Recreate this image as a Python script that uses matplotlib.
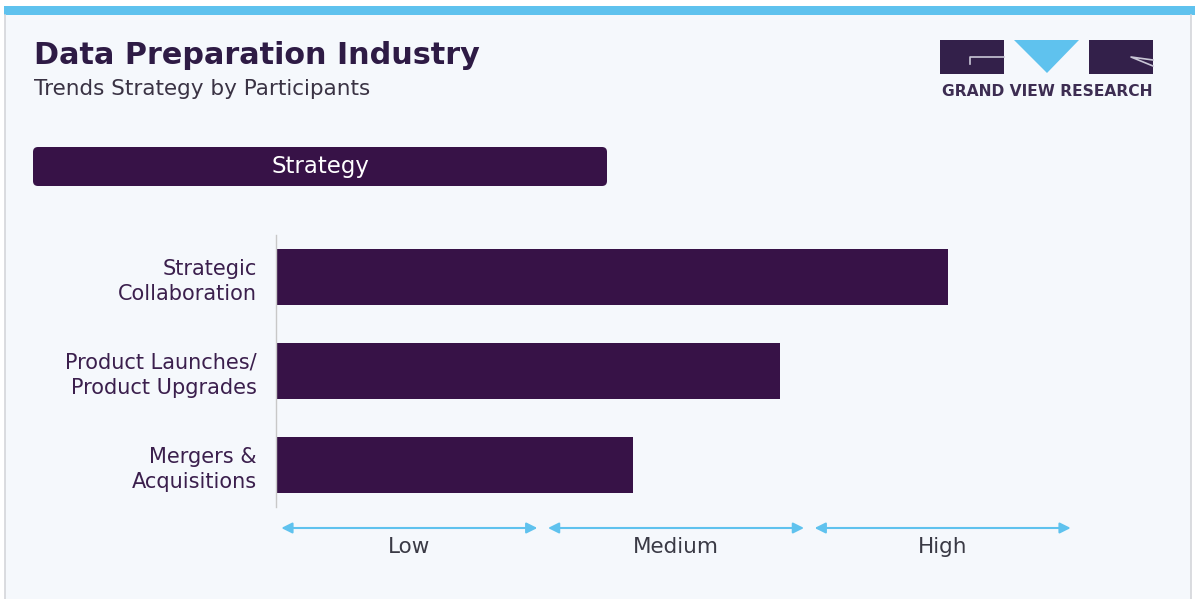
"""
Data Preparation Industry - trends strategy by participants.
"""
import matplotlib.pyplot as plt
from matplotlib.patches import Rectangle, Polygon, FancyBboxPatch
from matplotlib.lines import Line2D

strategies = ['Strategic\nCollaboration', 'Product Launches/\nProduct Upgrades',
              'Mergers &\nAcquisitions']
strength = [2.52, 1.89, 1.34]
levels = ['Low', 'Medium', 'High']

BG = '#f5f8fc'
PURPLE = '#371247'
TITLE = '#2e1b45'
BLUE = '#5fc2ee'
W, H = 1195, 599

fig = plt.figure(figsize=(W / 100, H / 100), dpi=100)
fig.patch.set_facecolor('white')

# overlay in pixel coords for the page decoration
deco = fig.add_axes([0, 0, 1, 1])
deco.set_xlim(0, W)
deco.set_ylim(H, 0)
deco.axis('off')
deco.add_patch(Rectangle((5, 6), W - 9, H, facecolor=BG, edgecolor='none'))
deco.add_patch(Rectangle((4, 6), W - 4, 9, facecolor=BLUE, edgecolor='none'))
deco.add_line(Line2D([5, 5], [15, H], color='#d4d6da', lw=1.2))
deco.add_line(Line2D([1191, 1191], [15, H], color='#d4d6da', lw=1.2))

deco.text(34, 56, 'Data Preparation Industry', fontsize=21.8, fontweight='bold',
          color=TITLE, va='center', ha='left', family='DejaVu Sans')
deco.text(34, 89, 'Trends Strategy by Participants', fontsize=15.5,
          color='#3a3344', va='center', ha='left', family='DejaVu Sans')

# header box
deco.add_patch(FancyBboxPatch((37, 151), 566, 31,
                              boxstyle='round,pad=4,rounding_size=5',
                              facecolor=PURPLE, edgecolor='none'))
deco.text(320, 166, 'Strategy', fontsize=16.5, color='white', ha='center',
          va='center', family='DejaVu Sans')

# logo
deco.add_patch(Rectangle((940, 40), 64, 34, facecolor='#33204a', edgecolor='none'))
deco.add_line(Line2D([1004, 970, 970], [57, 57, 64], color='#c9c6d6', lw=1.2))
deco.add_patch(Polygon([(1014, 40), (1079, 40), (1047, 73)], closed=True,
                       facecolor=BLUE, edgecolor='none'))
deco.add_patch(Rectangle((1089, 40), 64, 34, facecolor='#33204a', edgecolor='none'))
deco.add_line(Line2D([1153, 1131, 1153], [66, 57, 60], color='#c9c6d6', lw=1.2))
deco.text(1047, 92, 'GRAND VIEW RESEARCH', fontsize=11.2, fontweight='bold',
          color='#3d2d52', ha='center', va='center', family='DejaVu Sans')

# main chart
left, right = 276 / W, 1076 / W
bottom, top = 1 - 507 / H, 1 - 235 / H
ax = fig.add_axes([left, bottom, right - left, top - bottom])
ax.patch.set_alpha(0)
ypos = range(len(strategies))
ax.barh(ypos, strength, height=0.6, color=PURPLE, edgecolor='none')
ax.set_xlim(0, 3)
ax.set_ylim(2.447, -0.447)
for s in ['top', 'right', 'bottom']:
    ax.spines[s].set_visible(False)
ax.spines['left'].set_color('#c8c8c8')
ax.spines['left'].set_linewidth(1)
ax.set_xticks([])
ax.set_yticks(list(ypos))
ax.set_yticklabels(strategies, fontsize=15, color='#3b1f4d',
                   linespacing=1.3, family='DejaVu Sans')
ax.tick_params(axis='y', length=0, pad=14)

# level arrows below the axis
trans = ax.get_xaxis_transform()
arrow_y = (1 - 528 / H - bottom) / (top - bottom)
label_y = (1 - 547 / H - bottom) / (top - bottom)
for i, lvl in enumerate(levels):
    ax.annotate('', xy=(i + 0.02, arrow_y), xytext=(i + 0.98, arrow_y),
                xycoords=trans, textcoords=trans, annotation_clip=False,
                arrowprops=dict(arrowstyle='<|-|>', color=BLUE, lw=1.5,
                                mutation_scale=16, shrinkA=0, shrinkB=0))
    ax.text(i + 0.5, label_y, lvl, transform=trans, ha='center', va='center',
            fontsize=15.5, color='#3a3a45', family='DejaVu Sans')

fig.savefig('out.png', dpi=100, facecolor=fig.get_facecolor())
